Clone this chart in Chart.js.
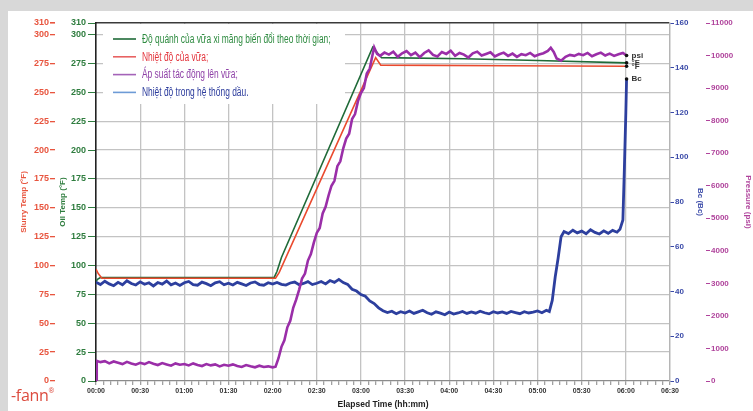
<!DOCTYPE html>
<html>
<head>
<meta charset="utf-8">
<script src="https://cdn.jsdelivr.net/npm/chart.js@4.4.1/dist/chart.umd.min.js"></script>
<style>
  html, body { margin: 0; padding: 0; }
  body { width: 753px; height: 411px; background: #d8d8d8; position: relative; overflow: hidden; }
  #panel { position: absolute; left: 8px; top: 11px; right: 0; bottom: 0; background: #fff; }
  #chart { position: absolute; left: 0; top: 0; }
  #logo { position: absolute; left: 11px; top: 384px; font: 16px "Open Sans", sans-serif;
          color: #dc4b3e; letter-spacing: -0.3px; }
  #logo sup { font-size: 7px; vertical-align: 8px; }
</style>
</head>
<body>
<div id="panel"></div>
<canvas id="chart" width="753" height="411"></canvas>
<div id="logo">-fann<sup>®</sup></div>
<script>
// ---- Axis ticks ----------------------------------------------------------
const timeTickMinutes = [0, 30, 60, 90, 120, 150, 180, 210, 240, 270, 300, 330, 360, 390];
const timeLabels = ['00:00', '00:30', '01:00', '01:30', '02:00', '02:30', '03:00',
                    '03:30', '04:00', '04:30', '05:00', '05:30', '06:00', '06:30'];
const tempTicks = [0, 25, 50, 75, 100, 125, 150, 175, 200, 225, 250, 275, 300, 310];
const bcTicks = [0, 20, 40, 60, 80, 100, 120, 140, 160];
const psiTicks = [0, 1000, 2000, 3000, 4000, 5000, 6000, 7000, 8000, 9000, 10000, 11000];

// ---- Series (minutes → value) ---------------------------------------------
const seriesLabels = [
  'Độ quánh của vữa xi măng biến đổi theo thời gian;',
  'Nhiệt độ của vữa;',
  'Áp suất tác động lên vữa;',
  'Nhiệt độ trong hệ thống dầu.'
];
const seriesUnits = ['°F', '°F', 'psi', 'Bc'];

// green, °F
const oilMinutes = [0, 1, 3, 121, 123, 126, 188, 190, 194, 250, 300, 360.5];
const oilTempF   = [86, 88, 89.5, 89.5, 95, 107, 289, 286, 280, 279, 277.5, 275.5];

// red, °F
const slurryMinutes = [0, 1.5, 4, 122, 124.5, 190, 193.5, 280, 360.5];
const slurryTempF   = [97, 93, 89, 89, 94, 280, 273.5, 273, 272.5];

// purple, psi
const pressureMinutes = [
  0, 0.5, 3, 6, 9, 12, 15, 18, 21, 24, 27, 30, 33, 36, 39, 42, 45, 48, 51, 54, 57, 60,
  63, 66, 69, 72, 75, 78, 81, 84, 87, 90, 93, 96, 99, 102, 105, 108, 111, 114, 117, 120, 122,
  124, 126, 128, 130, 132, 134, 136, 138, 140, 142, 144, 146, 148, 150, 152, 154, 156, 158,
  160, 162, 164, 166, 168, 170, 172, 174, 176, 178, 180, 182, 184, 186, 188, 189, 191,
  193, 196, 199, 202, 205, 208, 211, 214, 217, 220, 223, 226, 229, 232, 235, 238, 241, 244,
  247, 250, 253, 256, 259, 262, 265, 268, 271, 274, 277, 280, 283, 286, 289, 292, 295, 298,
  301, 304, 307, 309, 311, 313, 316, 319, 322, 325, 328, 331, 334, 337, 340, 343, 346, 349,
  352, 355, 358, 360.5
];
const pressurePsi = [
  0, 620, 580, 610, 540, 600, 560, 520, 590, 540, 500, 560, 520, 580, 530, 490, 550, 510, 470, 540, 500, 520,
  480, 540, 490, 460, 520, 480, 510, 450, 500, 470, 510, 460, 430, 490, 450, 420, 470, 430, 450, 420, 440,
  700, 1050, 1250, 1650, 1850, 2250, 2500, 2800, 3150, 3300, 3700, 3900, 4250, 4550, 4700, 5150, 5350, 5700,
  6000, 6150, 6600, 6750, 7150, 7450, 7600, 8050, 8200, 8600, 8850, 9000, 9450, 9600, 10050, 10250, 10050,
  9990, 10090, 10030, 10120, 9960, 10070, 10140, 10010, 10090, 9950, 10080, 10160, 10020, 9970, 10110, 10050, 10150, 9990,
  10080, 10030, 9940, 10070, 10120, 10000, 10050, 10100, 9970, 10040, 10090, 9990, 10060, 9960, 10040, 10010, 10080, 9980,
  10030, 10070, 10140, 10240, 10110, 9910, 9840, 9960, 10020, 9990, 10050, 10010, 10080, 9980, 10040, 10090, 10000, 10060,
  9990, 10040, 10080, 10000
];

// blue, Bc
const bcMinutes = [
  0, 3, 6, 9, 12, 15, 18, 21, 24, 27, 30, 33, 36, 39, 42, 45, 48, 51, 54, 57, 60,
  63, 66, 69, 72, 75, 78, 81, 84, 87, 90, 93, 96, 99, 102, 105, 108, 111, 114, 117, 120,
  123, 126, 129, 132, 135, 138, 141, 144, 147, 150, 153, 156, 159, 162, 165, 168, 171, 174, 177, 180,
  183, 186, 189, 192, 195, 198, 201, 204, 207, 210, 213, 216, 219, 222, 225, 228, 231, 234, 237, 240,
  243, 246, 249, 252, 255, 258, 261, 264, 267, 270, 273, 276, 279, 282, 285, 288, 291, 294, 297, 300,
  303, 306, 308, 310, 312, 314, 316, 318, 321, 324, 327, 330, 333, 336, 339, 342, 345, 348, 351, 354,
  356, 358, 359, 360, 360.5
];
const consistencyBc = [
  44.2, 43.1, 44.6, 43.4, 42.6, 44.1, 43.0, 44.8, 43.6, 42.9, 44.3, 43.2, 43.9, 42.5, 44.0, 43.3, 44.7, 43.0, 43.8, 42.7, 43.9,
  44.5, 43.1, 42.8, 44.2, 43.5, 42.6, 43.9, 44.4, 43.0, 43.7, 42.9, 44.1, 43.4, 42.7, 43.8, 44.3, 43.1, 42.8, 43.9, 43.3,
  44.0, 43.2, 42.9, 43.8, 44.2, 43.0, 43.6, 44.4, 43.1, 43.7, 44.5, 43.4, 44.9, 44.1, 45.4, 44.0, 43.2, 41.0, 40.2, 38.6,
  37.9, 35.8, 34.6, 32.7, 31.4, 30.6, 31.2, 30.1, 31.0, 30.4, 31.3, 30.2, 30.9, 31.6, 30.5, 29.8, 30.9, 30.3, 29.6, 30.8,
  29.9, 30.4, 31.1, 30.2, 30.9, 30.3, 31.2, 30.5, 30.0, 31.0, 30.4, 30.9, 30.2, 31.1, 30.6, 30.1, 31.0, 30.4, 30.8, 31.3,
  30.5, 31.6, 31.0, 36.0, 46.5, 55.0, 64.5, 66.8, 65.9, 67.4, 66.2, 67.0, 65.8, 67.6, 66.4, 65.7, 67.1, 66.0, 67.3, 66.5,
  67.8, 72.0, 95.0, 120.0, 135.0
];

// ---- Colours -------------------------------------------------------------
const GRID = '#c3c3c3';
const RED = '#e8553f', GREEN = '#2f7d3f', BLUE = '#3a4aa8', PINK = '#b0449c';

const pts = (xs, ys) => xs.map((x, i) => ({ x, y: ys[i] }));
const fixedTicks = (list) => (scale) => { scale.ticks = list.map((v) => ({ value: v })); };
const fixedWidth = (w) => (scale) => { scale.width = w; };
const plainNumber = (v) => String(v);
const tickFont = { family: 'Liberation Sans', size: 9, weight: 'bold' };
const smallTickFont = { family: 'Liberation Sans', size: 8, weight: 'bold' };
const titleFont = { family: 'Liberation Sans', size: 8, weight: 'bold' };

// Legend panel drawn inside the plot, top-left
const legendPanel = {
  id: 'legendPanel',
  beforeDatasetsDraw(chart) {
    const { ctx, chartArea } = chart;
    const x0 = chartArea.left + 7, y0 = chartArea.top + 1;
    ctx.save();
    ctx.fillStyle = '#fff';
    ctx.fillRect(x0, y0, 242, 80);
    ctx.textBaseline = 'middle';
    ctx.font = "12px 'Liberation Sans'";
    chart.data.datasets.forEach((ds, i) => {
      const y = y0 + 15 + i * 17.8;
      ctx.strokeStyle = ds.legendColor;
      ctx.lineWidth = 1.6;
      ctx.beginPath();
      ctx.moveTo(x0 + 10, y);
      ctx.lineTo(x0 + 33, y);
      ctx.stroke();
      ctx.save();
      ctx.translate(x0 + 39, y + 0.5);
      ctx.scale(0.7, 1);
      ctx.fillStyle = ds.legendText;
      ctx.fillText(ds.label, 0, 0);
      ctx.restore();
    });
    ctx.restore();
  }
};

// Black end markers with unit tags at the last sample of each trace
const endMarkers = {
  id: 'endMarkers',
  afterDatasetsDraw(chart) {
    const { ctx } = chart;
    ctx.save();
    ctx.font = "bold 8px 'Liberation Sans'";
    ctx.textBaseline = 'middle';
    chart.data.datasets.forEach((ds, i) => {
      const pts = chart.getDatasetMeta(i).data;
      const p = pts[pts.length - 1];
      ctx.fillStyle = '#111';
      ctx.beginPath();
      ctx.arc(p.x, p.y, 1.8, 0, Math.PI * 2);
      ctx.fill();
      ctx.fillStyle = '#333';
      ctx.fillText(ds.unit, p.x + 5, p.y);
    });
    ctx.restore();
  }
};

new Chart(document.getElementById('chart'), {
  type: 'line',
  data: {
    datasets: [
      { label: seriesLabels[0], unit: seriesUnits[0], data: pts(oilMinutes, oilTempF), yAxisID: 'yOil',
        borderColor: '#1f6a38', borderWidth: 1.6, legendColor: '#1f6a38', legendText: '#2e8b40', order: 4 },
      { label: seriesLabels[1], unit: seriesUnits[1], data: pts(slurryMinutes, slurryTempF), yAxisID: 'ySlurry',
        borderColor: '#ea4a2e', borderWidth: 1.6, legendColor: '#e86262', legendText: '#e3343c', order: 3 },
      { label: seriesLabels[2], unit: seriesUnits[2], data: pts(pressureMinutes, pressurePsi), yAxisID: 'yPsi',
        borderColor: '#9a2ea8', borderWidth: 2.6, legendColor: '#a463b8', legendText: '#8d3fa6', order: 1 },
      { label: seriesLabels[3], unit: seriesUnits[3], data: pts(bcMinutes, consistencyBc), yAxisID: 'yBc',
        borderColor: '#2d3f9e', borderWidth: 2.8, legendColor: '#6d9bd6', legendText: '#2b3b9c', order: 2 }
    ]
  },
  options: {
    responsive: false,
    devicePixelRatio: 1,
    animation: false,
    layout: { padding: { top: 23, left: 0, right: 0, bottom: 0 } },
    elements: { point: { radius: 0 }, line: { tension: 0 } },
    plugins: { legend: { display: false }, tooltip: { enabled: false } },
    scales: {
      x: {
        type: 'linear', min: 0, max: 390,
        afterBuildTicks(scale) {
          const ticks = [];
          for (let m = 0; m <= 390; m += 5) ticks.push({ value: m });
          scale.ticks = ticks;
        },
        afterFit(scale) { scale.height = 30; },
        ticks: {
          autoSkip: false, maxRotation: 0, padding: 2, color: '#333',
          font: { family: 'Liberation Sans', size: 7, weight: 'bold' },
          callback(v) { const i = timeTickMinutes.indexOf(v); return i >= 0 ? timeLabels[i] : ''; }
        },
        grid: {
          color: (c) => (c.tick && c.tick.value % 30 === 0 && c.tick.value > 0) ? GRID : 'rgba(0,0,0,0)',
          tickColor: '#a0a0a0', tickLength: 4, lineWidth: 1.3
        },
        border: { color: '#8c8c8c', width: 1.2 },
        title: { display: true, text: 'Elapsed Time (hh:mm)', color: '#222',
                 font: { family: 'Liberation Sans', size: 8.5, weight: 'bold' }, padding: { top: 0, bottom: 1 } }
      },
      ySlurry: {
        position: 'left', weight: 2, min: 0, max: 310,
        afterBuildTicks: fixedTicks(tempTicks), afterFit: fixedWidth(55),
        ticks: { color: RED, font: tickFont, padding: 1, callback: plainNumber },
        grid: {
          color: (c) => c.tick.value === 310 ? '#3a3a3a' : (c.tick.value === 0 ? 'rgba(0,0,0,0)' : GRID),
          lineWidth: (c) => c.tick.value === 310 ? 1.6 : 1.3,
          tickColor: RED, tickLength: 5
        },
        border: { display: false },
        title: { display: true, text: 'Slurry Temp (°F)', color: RED, font: titleFont, padding: { top: 19, bottom: 0 } }
      },
      yOil: {
        position: 'left', weight: 1, min: 0, max: 310,
        afterBuildTicks: fixedTicks(tempTicks), afterFit: fixedWidth(41),
        ticks: { color: GREEN, font: tickFont, padding: 2, callback: plainNumber },
        grid: { drawOnChartArea: false, tickColor: GREEN, tickLength: 8 },
        border: { color: '#222', width: 1.6 },
        title: { display: true, text: 'Oil Temp (°F)', color: GREEN, font: titleFont, padding: { top: 3, bottom: 0 } }
      },
      yBc: {
        position: 'right', weight: 1, min: 0, max: 160,
        afterBuildTicks: fixedTicks(bcTicks), afterFit: fixedWidth(36),
        ticks: { color: BLUE, font: smallTickFont, padding: 1, callback: plainNumber },
        grid: { drawOnChartArea: false, tickColor: BLUE, tickLength: 4 },
        border: { color: '#b5b5b5', width: 1.3 },
        title: { display: true, text: 'Bc (Bc)', color: BLUE, font: titleFont, padding: { top: 1, bottom: 0 } }
      },
      yPsi: {
        position: 'right', weight: 2, min: 0, max: 11000,
        afterBuildTicks: fixedTicks(psiTicks), afterFit: fixedWidth(47),
        ticks: { color: PINK, font: smallTickFont, padding: 1, callback: plainNumber },
        grid: { drawOnChartArea: false, tickColor: PINK, tickLength: 4 },
        border: { display: false },
        title: { display: true, text: 'Pressure (psi)', color: PINK, font: titleFont, padding: { top: 0, bottom: 0 } }
      }
    }
  },
  plugins: [legendPanel, endMarkers]
});
</script>
</body>
</html>
